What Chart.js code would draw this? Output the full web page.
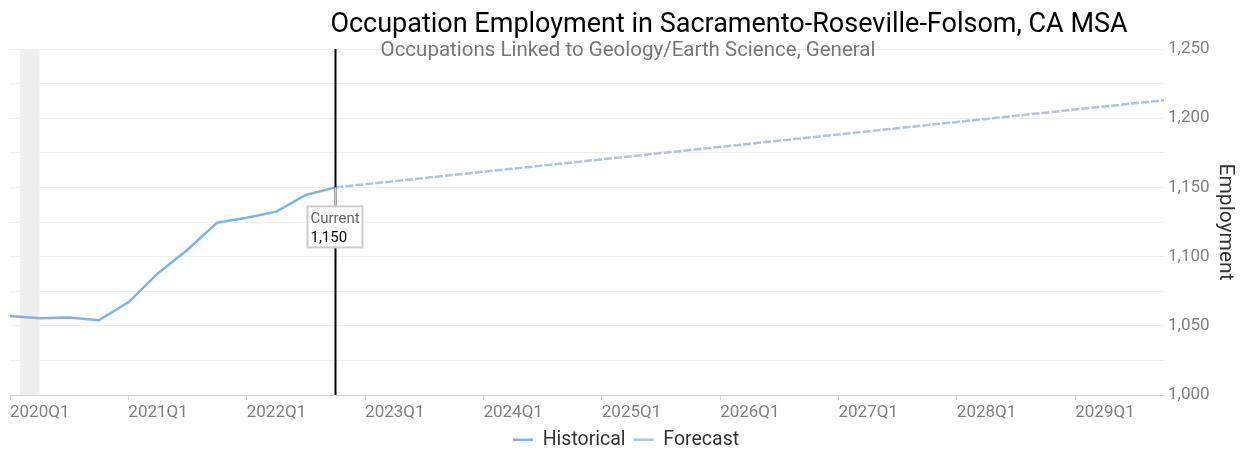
<!DOCTYPE html>
<html>
<head>
<meta charset="utf-8">
<script src="https://cdn.jsdelivr.net/npm/chart.js@4.4.1/dist/chart.umd.min.js"></script>
<style>
  html, body { margin: 0; padding: 0; background: #fff; }
  #wrap { width: 1242px; height: 450px; }
</style>
</head>
<body>
<div id="wrap"><canvas id="occChart"></canvas></div>
<script>
// quarters on the x axis
const years = [2020, 2021, 2022, 2023, 2024, 2025, 2026, 2027, 2028, 2029];
const quarters = ['Q1', 'Q2', 'Q3', 'Q4'];
const labels = [];
years.forEach(y => quarters.forEach(q => labels.push(y + q)));

// employment
const historical = [1057, 1055.5, 1056, 1054, 1067, 1088, 1105, 1124.5, 1128, 1132.5, 1144.5, 1150];
const forecast = [1150, 1152.3, 1154.5, 1156.8, 1159, 1161.3, 1163.5, 1165.8, 1168, 1170.3,
                  1172.5, 1174.8, 1177, 1179.3, 1181.5, 1183.8, 1186, 1188.3, 1190.5, 1192.8,
                  1195, 1197.3, 1199.5, 1201.8, 1204, 1206.3, 1208.5, 1210.8, 1213];
const currentLabel = '2022Q4';
const recessions = [{ start: '2020-02', end: '2020-04' }];

const titleText = 'Occupation Employment in Sacramento-Roseville-Folsom, CA MSA';
const subtitleText = 'Occupations Linked to Geology/Earth Science, General';

const currentIdx = labels.indexOf(currentLabel);
const histData = labels.map((l, i) => i < historical.length ? historical[i] : null);
const fcData = labels.map((l, i) => i >= currentIdx ? forecast[i - currentIdx] : null);

// month string -> fractional quarter index
function monthToIndex(m) {
    let [y, mo] = m.split('-').map(Number);
    return (y - years[0]) * 4 + (mo - 1) / 3;
}

const extras = {
    id: 'extras',
    beforeDatasetsDraw(chart) {
        const { ctx, chartArea, scales } = chart;
        ctx.save();
        ctx.fillStyle = '#efefef';
        recessions.forEach(r => {
            let x1 = scales.x.getPixelForValue(monthToIndex(r.start));
            let x2 = scales.x.getPixelForValue(monthToIndex(r.end));
            ctx.fillRect(x1, chartArea.top, x2 - x1, chartArea.bottom - chartArea.top);
        });
        ctx.restore();
    },
    afterDatasetsDraw(chart) {
        const { ctx, chartArea, scales } = chart;
        const x = scales.x.getPixelForValue(currentIdx);
        const y = scales.y.getPixelForValue(historical[historical.length - 1]);
        ctx.save();
        // current marker line
        ctx.strokeStyle = '#000';
        ctx.lineWidth = 2;
        ctx.beginPath();
        ctx.moveTo(x, chartArea.top);
        ctx.lineTo(x, chartArea.bottom);
        ctx.stroke();

        // callout box
        const bx = x - 28, by = y + 19, bw = 55, bh = 41;
        ctx.strokeStyle = '#cccccc';
        ctx.beginPath();
        ctx.moveTo(x, y);
        ctx.lineTo(x, by);
        ctx.stroke();
        ctx.fillStyle = '#fff';
        ctx.fillRect(bx, by, bw, bh);
        ctx.strokeRect(bx, by, bw, bh);
        ctx.font = '15px Roboto';
        ctx.textBaseline = 'alphabetic';
        ctx.textAlign = 'left';
        ctx.fillStyle = '#666';
        ctx.fillText('Current', bx + 3, by + 17);
        ctx.fillStyle = '#000';
        ctx.fillText(historical[historical.length - 1].toLocaleString('en-US'), bx + 3, by + 36);
        ctx.restore();
    },
    afterDraw(chart) {
        const { ctx } = chart;
        ctx.save();
        ctx.textAlign = 'center';
        ctx.textBaseline = 'alphabetic';
        ctx.fillStyle = '#000';
        ctx.font = '27px Roboto';
        ctx.fillText(titleText, 729, 32);
        ctx.fillStyle = '#777';
        ctx.font = '20.5px Roboto';
        ctx.fillText(subtitleText, 628, 56);
        ctx.restore();
    }
};

new Chart(document.getElementById('occChart'), {
    type: 'line',
    data: {
        labels: labels,
        datasets: [{
            label: 'Historical',
            data: histData,
            borderColor: '#7cb5ec',
            backgroundColor: '#7cb5ec',
            borderWidth: 2.5,
            pointRadius: 0,
            tension: 0
        }, {
            label: 'Forecast',
            data: fcData,
            borderColor: '#b0c4de',
            backgroundColor: '#b0c4de',
            borderWidth: 2.5,
            borderDash: [8, 2],
            pointRadius: 0,
            tension: 0
        }]
    },
    options: {
        responsive: true,
        maintainAspectRatio: false,
        animation: false,
        layout: { padding: { left: 10, top: 49, right: 0, bottom: 0 } },
        plugins: {
            tooltip: { enabled: false },
            legend: {
                position: 'bottom',
                maxHeight: 28,
                labels: {
                    usePointStyle: true,
                    pointStyleWidth: 20,
                    pointStyle: 'line',
                    padding: 8,
                    color: '#333',
                    font: { family: 'Roboto', size: 19.5 }
                }
            }
        },
        scales: {
            x: {
                offset: false,
                afterFit: s => { s.height = 27; },
                grid: {
                    drawOnChartArea: false,
                    tickLength: 5,
                    color: c => (c.tick && labels[c.tick.value] && labels[c.tick.value].endsWith('Q1')) ? '#ccd6eb' : 'rgba(0,0,0,0)'
                },
                border: { color: '#ccd6eb', width: 1 },
                ticks: {
                    autoSkip: false,
                    maxRotation: 0,
                    align: 'start',
                    padding: 3,
                    color: '#808080',
                    font: { family: 'Roboto', size: 17 },
                    callback: function (v) {
                        let l = this.getLabelForValue(v);
                        return l.endsWith('Q1') ? l : '';
                    }
                }
            },
            y: {
                position: 'right',
                min: 1000,
                max: 1250,
                afterFit: s => { s.width = 78; },
                grid: { color: '#efefef', drawTicks: false },
                border: { display: false },
                ticks: {
                    stepSize: 25,
                    padding: 4,
                    color: '#808080',
                    font: { family: 'Roboto', size: 17 },
                    callback: v => v % 50 === 0 ? v.toLocaleString('en-US') : ''
                },
                title: {
                    display: true,
                    text: 'Employment',
                    color: '#333',
                    font: { family: 'Roboto', size: 21 },
                    padding: { top: 4, bottom: 0 }
                }
            }
        }
    },
    plugins: [extras]
});
</script>
</body>
</html>
